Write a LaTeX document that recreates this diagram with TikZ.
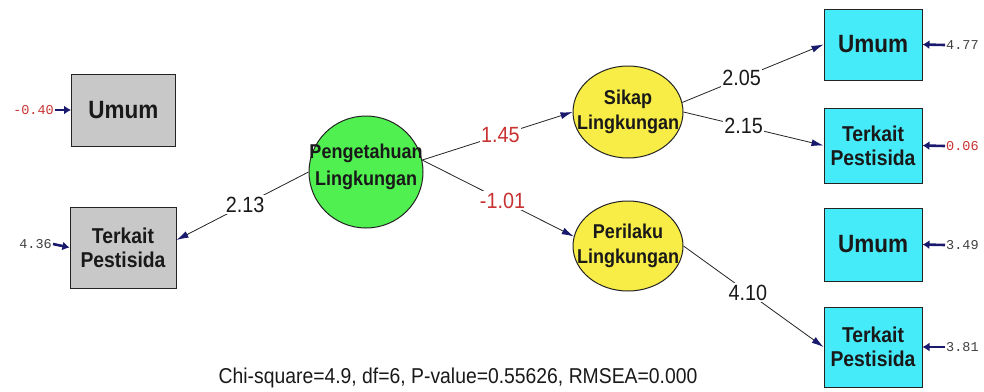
\documentclass[tikz,border=0pt]{standalone}
\usepackage{fontspec}
\setmainfont{Liberation Sans}
\newfontfamily\nar{Liberation Sans}[FakeStretch=0.9]
\newfontfamily\mono{Liberation Mono}
\usetikzlibrary{arrows.meta,shapes.geometric}
\definecolor{boxgray}{RGB}{200,200,200}
\definecolor{boxcyan}{RGB}{70,235,250}
\definecolor{latgreen}{RGB}{80,240,80}
\definecolor{latyellow}{RGB}{248,236,70}
\definecolor{navyar}{RGB}{25,25,110}
\definecolor{estred}{RGB}{200,50,50}
\definecolor{outl}{RGB}{35,35,35}
\begin{document}
\begin{tikzpicture}[x=1pt,y=-1pt,
  obsbox/.style={draw=outl,line width=1pt,rectangle,inner sep=0pt,align=center,
     font=\nar\bfseries\fontsize{21.5}{24}\selectfont,text=black!90},
  gbox/.style={obsbox,fill=boxgray},
  cbox/.style={obsbox,fill=boxcyan},
  umum/.style={font=\nar\bfseries\fontsize{25}{25}\selectfont},
  latent/.style={draw=outl,line width=1pt,ellipse,inner sep=0pt},
  lattext/.style={align=center,inner sep=0pt,font=\nar\bfseries\fontsize{20}{25}\selectfont,text=black!90},
  path/.style={draw=outl,line width=0.8pt,-{Latex[length=12pt,width=7pt,color=navyar]}},
  est/.style={fill=white,inner sep=1.5pt,font=\nar\fontsize{22}{22}\selectfont,text=black!90},
  estr/.style={est,text=estred},
  errarrow/.style={draw=navyar,line width=2.6pt,-{Latex[length=7pt,width=9pt]}},
  errlab/.style={inner sep=1pt,font=\mono\fontsize{13.5}{13.5}\selectfont,text=black!75},
  errlabr/.style={errlab,text=estred}
]
\useasboundingbox (0,0) rectangle (984,391);

% left observed variables
\node[gbox,umum,minimum width=104pt,minimum height=72pt] (gU) at (123.5,110) {Umum};
\node[gbox,minimum width=106pt,minimum height=81pt] (gT) at (123,247.5) {Terkait\\Pestisida};

% latent variables
\node[latent,fill=latgreen,minimum width=114pt,minimum height=112pt,
  label={[lattext,yshift=5pt]center:Pengetahuan\\[2pt]Lingkungan}] (P) at (366,172) {};
\node[latent,fill=latyellow,minimum width=110pt,minimum height=92pt,
  label={[lattext]center:Sikap\\Lingkungan}] (S) at (628,112) {};
\node[latent,fill=latyellow,minimum width=110pt,minimum height=90pt,
  label={[lattext]center:Perilaku\\Lingkungan}] (R) at (628,246) {};

% right observed variables
\node[cbox,umum,minimum width=98pt,minimum height=71pt] (cU1) at (873,44.5) {Umum};
\node[cbox,minimum width=98pt,minimum height=75pt] (cT1) at (873,145.5) {Terkait\\Pestisida};
\node[cbox,umum,minimum width=98pt,minimum height=73pt] (cU2) at (873,244.5) {Umum};
\node[cbox,minimum width=98pt,minimum height=80pt] (cT2) at (873,347) {Terkait\\Pestisida};

% structural and measurement paths
\draw[path] (P.west) -- node[est,pos=0.48] {2.13} (gT.8);
\draw[path] (P.12) -- node[estr,pos=0.52] {1.45} (S.west);
\draw[path] (P.12) -- node[estr,pos=0.53] {-1.01} (R.170);
\draw[path] (S.10) -- node[est,pos=0.42] {2.05} (cU1.west);
\draw[path] (S.east) -- node[est,pos=0.43] {2.15} (cT1.west);
\draw[path] (R.east) -- node[est,pos=0.46] {4.10} (cT2.west);

% error variances
\node[errlabr,anchor=east] (eL1) at (55,110) {-0.40};
\node[errlab,anchor=east] (eL2) at (53,244) {4.36};
\node[errlab,anchor=west] (eR1) at (945,45) {4.77};
\node[errlabr,anchor=west] (eR2) at (945,146) {0.06};
\node[errlab,anchor=west] (eR3) at (945,245) {3.49};
\node[errlab,anchor=west] (eR4) at (945,347) {3.81};
\draw[errarrow] (eL1.east) -- (gU.west);
\draw[errarrow] (eL2.east) -- (gT.west);
\draw[errarrow] (eR1.west) -- (cU1.east);
\draw[errarrow] (eR2.west) -- (cT1.east);
\draw[errarrow] (eR3.west) -- (cU2.east);
\draw[errarrow] (eR4.west) -- (cT2.east);

% fit statistics
\node[font=\nar\fontsize{21.5}{21.5}\selectfont,text=black!90,inner sep=0pt] (fit) at (458,378)
  {Chi-square=4.9, df=6, P-value=0.55626, RMSEA=0.000};
\end{tikzpicture}
\end{document}
